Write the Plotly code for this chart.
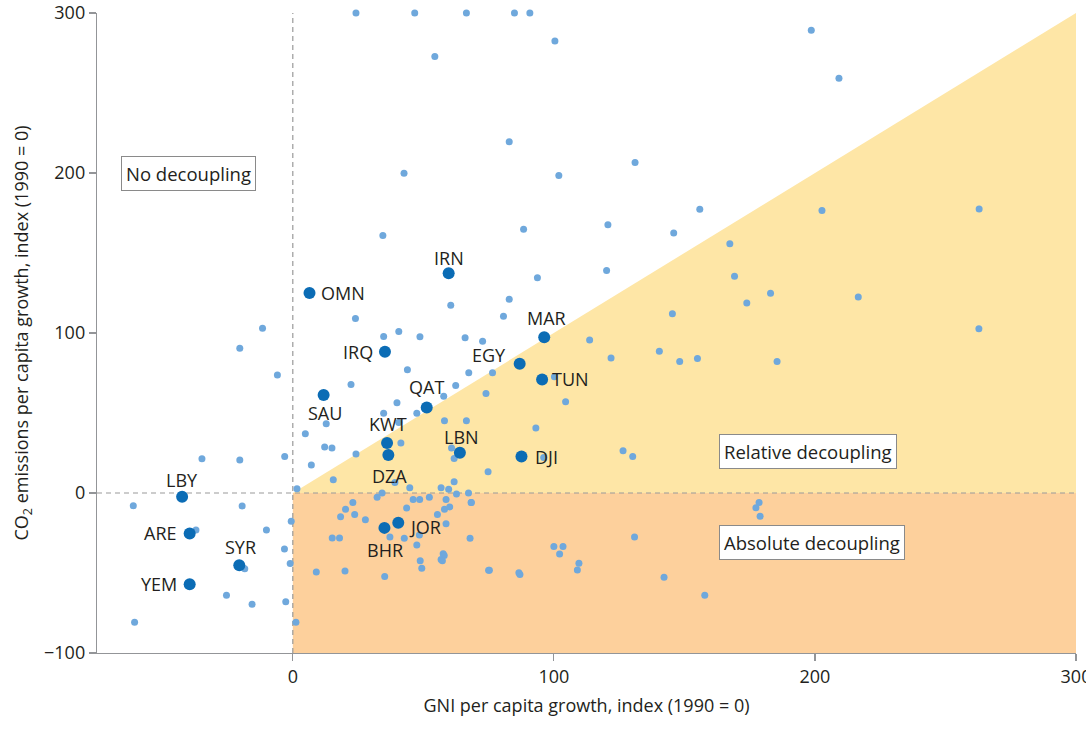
import plotly.graph_objects as go

# ---- data ----
small_x = [24.2, 46.7, 66.5, 84.9, 90.8, 100.4, 54.4, 82.9, 42.6, 101.9, 88.4,
           198.6, 209.2, 131.1, 155.9, 202.7, 262.9, 120.7, 145.9,
           167.4, 120.2, 169.2, 183.0, 173.9, 216.6, 145.4, 262.8,
           121.9, 140.4, 148.2, 155.0, 185.5, 126.5, 130.2,
           178.6, 177.4, 179.0,
           67.3, 68.3, 67.9, 75.3, 86.6, 87.0, 100.0, 103.5, 102.2, 109.6, 109.0, 130.9, 142.2, 157.8,
           -61.1, -19.4, -37.1, -10.1, -0.6, -3.2, -1.0, -18.4, -25.4, -15.6, -2.7, -60.6, 1.2, 1.6,
           -11.6, -20.3, -5.9, -34.8, -20.3, -3.1,
           34.5, 93.7, 82.9, 60.5, 80.7, 24.0, 40.6, 34.8, 48.7, 66.0, 72.7, 113.7,
           43.9, 67.4, 76.5, 22.3, 62.4, 74.0, 57.8, 104.5, 39.9, 47.5, 34.8, 100.2,
           4.8, 12.8, 40.6, 58.1, 66.5, 93.1, 12.2, 15.0, 41.4, 24.2, 60.8, 61.8, 96.1, 7.1, 15.5,
           39.1, 74.8, 44.8, 56.8, 59.7, 61.8, 62.7,
           34.2, 32.3, 23.0, 46.1, 48.6, 52.3, 58.7, 68.4, 20.2, 43.6, 58.1, 18.3, 23.7, 60.1, 55.4,
           27.8, 58.7,
           15.1, 17.9, 37.2, 42.7, 48.5, 47.5, 57.6, 58.0, 56.8, 57.3, 48.8, 49.4, 9.0, 20.0, 35.2, 75.0]
small_y = [300, 300, 300, 300, 300, 282.5, 272.8, 219.5, 199.9, 198.5, 164.8,
           289.2, 259.2, 206.6, 177.3, 176.6, 177.5, 167.7, 162.5,
           155.8, 139.0, 135.4, 124.8, 118.8, 122.5, 112.1, 102.7,
           84.4, 88.6, 82.2, 84.0, 82.2, 26.4, 22.8,
           -5.9, -9.2, -14.5,
           0.0, -5.9, -28.3, -48.3, -49.9, -51.0, -33.5, -33.5, -38.1, -43.9, -48.1, -27.5, -52.7, -63.9,
           -7.9, -8.1, -23.1, -23.1, -17.7, -35.0, -44.1, -47.3, -63.9, -69.5, -67.9, -80.8, -80.8, 2.7,
           103.0, 90.5, 73.8, 21.4, 20.6, 22.8,
           161.0, 134.6, 121.1, 117.3, 110.5, 109.0, 100.9, 97.8, 97.6, 97.1, 94.9, 95.7,
           77.0, 75.1, 75.1, 67.8, 67.2, 62.2, 60.5, 57.0, 56.4, 49.9, 49.9, 72.6,
           37.0, 43.3, 44.1, 45.1, 45.1, 40.6, 28.7, 28.1, 31.2, 24.3, 28.1, 21.6, 22.2, 17.5, 8.3,
           6.6, 13.3, 3.3, 3.3, 2.3, 7.0, -0.6,
           0.0, -2.7, -5.9, -4.0, -4.0, -2.7, -4.0, -5.9, -10.2, -9.4, -10.2, -14.8, -13.4, -8.7, -13.4,
           -16.7, -19.2,
           -28.1, -28.1, -27.5, -28.3, -26.2, -32.5, -37.9, -39.1, -41.6, -42.4, -42.4, -47.0, -49.3, -48.7, -52.2, -48.3]

countries = ["IRN", "OMN", "IRQ", "MAR", "EGY", "TUN", "SAU", "QAT", "KWT", "DZA",
             "LBN", "DJI", "LBY", "ARE", "SYR", "YEM", "JOR", "BHR"]
country_x = [59.7, 6.4, 35.3, 96.3, 86.9, 95.5, 11.8, 51.3, 36.1, 36.6,
             64.0, 87.6, -42.4, -39.5, -20.5, -39.5, 40.4, 35.1]
country_y = [137.3, 125.0, 88.3, 97.4, 80.8, 71.0, 61.2, 53.4, 31.3, 23.7,
             25.2, 22.8, -2.3, -25.3, -45.2, -57.1, -18.6, -21.8]

x_ticks = [0, 100, 200, 300]
y_ticks = [-100, 0, 100, 200, 300]
y_tick_text = ["\u2212100", "0", "100", "200", "300"]
x_range = [-75, 300]
y_range = [-100, 300]

zone_labels = ["No decoupling", "Relative decoupling", "Absolute decoupling"]
zone_x = [-40, 197.5, 199]
zone_y = [200, 26, -31]

# ---- style ----
FONT = "Open Sans"
TXT = "#231f20"
GRAY = "#939598"
SMALL_C = "#6fa8dc"
BIG_C = "#0b6cb5"
ORANGE = "#fdd09c"
YELLOW = "#fee6a6"

# label placement: (xanchor, xshift, yshift)
label_pos = {
    "IRN": ("center", 0, 15), "OMN": ("left", 9, 0), "IRQ": ("right", -10, 0),
    "MAR": ("center", 2, 19), "EGY": ("right", -12, 9), "TUN": ("left", 8, 0),
    "SAU": ("center", 1, -18), "QAT": ("center", 0, 21), "KWT": ("center", 1, 19),
    "DZA": ("center", 1, -21), "LBN": ("center", 2, 16), "DJI": ("left", 12, 0),
    "LBY": ("center", 0, 17), "ARE": ("right", -11, 0), "SYR": ("center", 1, 18),
    "YEM": ("right", -11, 0), "JOR": ("left", 9, -4), "BHR": ("center", 1, -22),
}

fig = go.Figure()

fig.add_trace(go.Scatter(x=small_x, y=small_y, mode="markers",
                         marker=dict(size=7, color=SMALL_C, line=dict(width=0)),
                         cliponaxis=False, hoverinfo="skip", showlegend=False))
fig.add_trace(go.Scatter(x=country_x, y=country_y, mode="markers",
                         marker=dict(size=12, color=BIG_C, line=dict(width=0)),
                         text=countries, cliponaxis=False, showlegend=False))

shapes = [
    dict(type="rect", xref="x", yref="y", x0=0, x1=x_range[1], y0=y_range[0], y1=0,
         fillcolor=ORANGE, line=dict(width=0), layer="below"),
    dict(type="path", xref="x", yref="y",
         path=f"M 0 0 L {x_range[1]} {y_range[1]} L {x_range[1]} 0 Z",
         fillcolor=YELLOW, line=dict(width=0), layer="below"),
    dict(type="line", xref="x", yref="y", x0=0, x1=0, y0=y_range[0], y1=y_range[1],
         line=dict(color="#9a9a9a", width=1.2, dash="5px,4px"), layer="below"),
    dict(type="line", xref="x", yref="y", x0=x_range[0], x1=x_range[1], y0=0, y1=0,
         line=dict(color="#9a9a9a", width=1.2, dash="5px,4px"), layer="below"),
]

annotations = []
for c, x, y in zip(countries, country_x, country_y):
    xa, xs, ys = label_pos[c]
    annotations.append(dict(x=x, y=y, xref="x", yref="y", text=c, showarrow=False,
                            xanchor=xa, yanchor="middle", xshift=xs, yshift=ys,
                            font=dict(family=FONT, size=18, color=TXT)))
for t, x, y in zip(zone_labels, zone_x, zone_y):
    annotations.append(dict(x=x, y=y, xref="x", yref="y", text=t, showarrow=False,
                            bgcolor="white", bordercolor="#8a8a8a", borderwidth=1,
                            borderpad=4,
                            font=dict(family=FONT, size=18.5, color=TXT)))

fig.update_layout(
    width=1086, height=735,
    margin=dict(l=97, r=10, t=13, b=82),
    plot_bgcolor="white", paper_bgcolor="white",
    font=dict(family=FONT, size=18, color=TXT),
    shapes=shapes, annotations=annotations,
    xaxis=dict(range=x_range, tickvals=x_ticks, showgrid=False, zeroline=False,
               automargin=False, ticklabeloverflow="allow",
               showline=True, linecolor=GRAY, linewidth=1.2,
               ticks="outside", ticklen=7, tickcolor=GRAY, tickwidth=1.2,
               tickfont=dict(family=FONT, size=18, color=TXT),
               title=dict(text="GNI per capita growth, index (1990 = 0)",
                          font=dict(family=FONT, size=18, color=TXT), standoff=12)),
    yaxis=dict(range=y_range, tickvals=y_ticks, ticktext=y_tick_text,
               showgrid=False, zeroline=False, automargin=False,
               ticklabeloverflow="allow",
               showline=True, linecolor=GRAY, linewidth=1.2,
               ticks="outside", ticklen=7, tickcolor=GRAY, tickwidth=1.2,
               tickfont=dict(family=FONT, size=18, color=TXT),
               title=dict(text="CO<sub>2</sub> emissions per capita growth, index (1990 = 0)",
                          font=dict(family=FONT, size=18, color=TXT), standoff=10)),
)

# remove the browser's default 8px page margin so the figure fills the window
fig.write_html("out.html",
               config={"displayModeBar": False, "staticPlot": True},
               post_script="document.body.style.margin='0px';document.body.style.overflow='hidden';")
